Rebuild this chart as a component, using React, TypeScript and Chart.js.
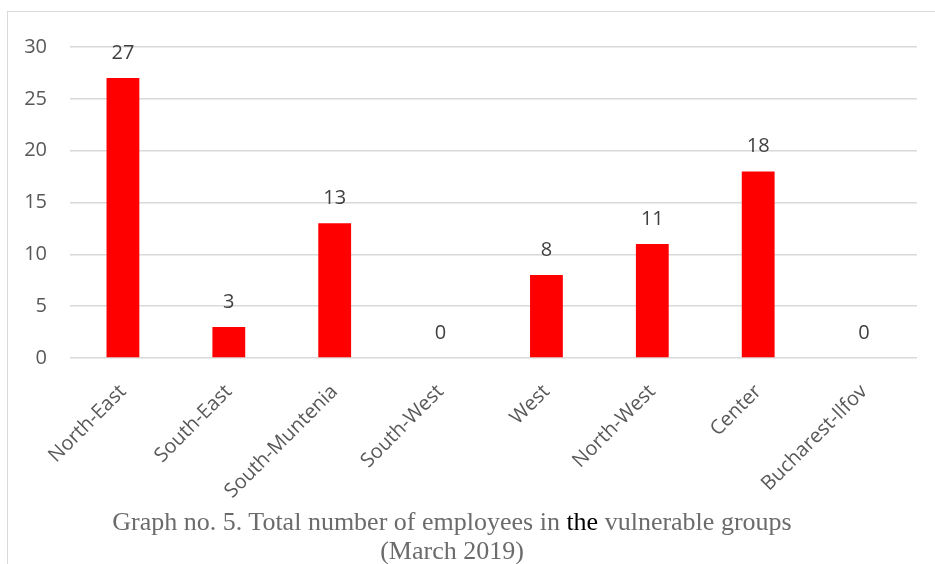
import React, { useEffect, useRef } from "react";
import { Chart, registerables } from "chart.js";

Chart.register(...registerables);

// Employees in vulnerable groups by development region, March 2019
const regions = [
  "North-East",
  "South-East",
  "South-Muntenia",
  "South-West",
  "West",
  "North-West",
  "Center",
  "Bucharest-Ilfov",
];
const employees = [27, 3, 13, 0, 8, 11, 18, 0];
const yMin = 0;
const yMax = 30;
const yStep = 5;

const CANVAS_W = 920;
const CANVAS_H = 500;
const SANS = "'Open Sans', 'Noto Sans', sans-serif";

// Writes each bar's value above it
const valueLabels = {
  id: "valueLabels",
  afterDatasetsDraw(chart: any) {
    const { ctx } = chart;
    const meta = chart.getDatasetMeta(0);
    const data = chart.data.datasets[0].data as number[];
    ctx.save();
    ctx.font = `20px ${SANS}`;
    ctx.fillStyle = "#404040";
    ctx.textAlign = "center";
    ctx.textBaseline = "middle";
    meta.data.forEach((bar: any, i: number) => {
      ctx.fillText(String(data[i]), bar.x, bar.y - 25);
    });
    ctx.restore();
  },
};

export default function App() {
  const canvasRef = useRef<HTMLCanvasElement | null>(null);

  useEffect(() => {
    if (!canvasRef.current) return;
    const chart = new Chart(canvasRef.current, {
      type: "bar",
      data: {
        labels: regions,
        datasets: [
          {
            data: employees,
            backgroundColor: "#ff0000",
            borderWidth: 0,
            barPercentage: 0.31,
            categoryPercentage: 1,
          },
        ],
      },
      options: {
        animation: false,
        responsive: false,
        devicePixelRatio: 1,
        layout: { padding: { top: 33, right: 11, bottom: 0, left: 0 } },
        plugins: {
          legend: { display: false },
          tooltip: { enabled: false },
        },
        scales: {
          x: {
            grid: { display: false },
            border: { display: false },
            ticks: {
              autoSkip: false,
              minRotation: 45,
              maxRotation: 45,
              padding: 14,
              color: "#595959",
              font: { family: SANS, size: 20 },
            },
            afterFit(scale: any) {
              scale.height = CANVAS_H - 346;
            },
          },
          y: {
            min: yMin,
            max: yMax,
            border: { display: false },
            grid: { color: "#d9d9d9", lineWidth: 1.5, drawTicks: false },
            ticks: {
              stepSize: yStep,
              padding: 23,
              color: "#595959",
              font: { family: SANS, size: 20 },
            },
            afterFit(scale: any) {
              scale.width = 62;
            },
          },
        },
      },
      plugins: [valueLabels],
    });
    return () => chart.destroy();
  }, []);

  return (
    <div
      style={{
        position: "fixed",
        left: 0,
        top: 0,
        width: 935,
        height: 564,
        overflow: "hidden",
        background: "#ffffff",
      }}
    >
      <div
        style={{
          position: "absolute",
          left: 7,
          top: 11,
          width: 1000,
          height: 1000,
          border: "1.5px solid #d9d9d9",
          boxSizing: "border-box",
        }}
      />
      <canvas
        ref={canvasRef}
        width={CANVAS_W}
        height={CANVAS_H}
        style={{
          position: "absolute",
          left: 8,
          top: 12,
          width: CANVAS_W,
          height: CANVAS_H,
        }}
      />
      <div
        style={{
          position: "absolute",
          left: 2,
          top: 507,
          width: 900,
          textAlign: "center",
          fontFamily: "'Liberation Serif', 'DejaVu Serif', serif",
          fontSize: 26,
          lineHeight: "29px",
          color: "#6b6b6b",
          whiteSpace: "nowrap",
        }}
      >
        Graph no. 5. Total number of employees in <span style={{ color: "#000000" }}>the</span> vulnerable groups
        <br />
        (March 2019)
      </div>
    </div>
  );
}
